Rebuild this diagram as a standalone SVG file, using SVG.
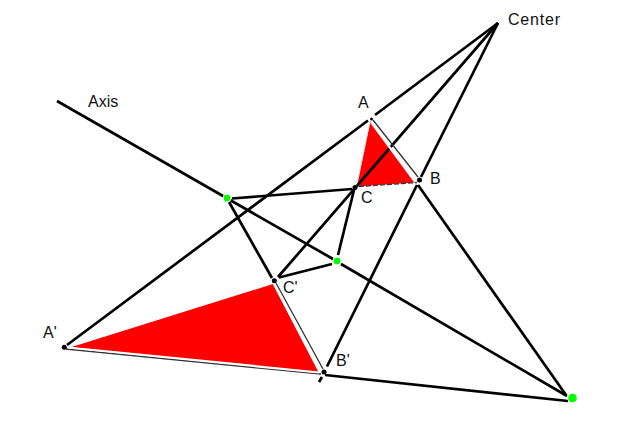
<svg xmlns="http://www.w3.org/2000/svg" width="626" height="428" viewBox="0 0 626 428">
<style>
.l{stroke:#000;stroke-width:2.7;fill:none}
.t{stroke:#333;stroke-width:1.3;fill:none}
.e{stroke:#fff;stroke-width:2.2;fill:none}
.tri{fill:#f00}
.p{fill:#000}
.g{fill:#0f0;stroke:#fff;stroke-width:1}
text{font-family:"Liberation Sans",Arial,sans-serif;font-size:16px;fill:#111}
</style>
<rect width="626" height="428" fill="#fff"/>
<g id="triangle-abc"><polygon class="tri" points="370.500,121 415,182.500 357,186.500"/></g>
<g id="triangle-abc-prime"><polygon class="tri" points="70,347.500 273,284 319,373"/></g>
<g id="connectors">
<path class="l" d="M498 23L375 115M368 120.500L67 345"/>
<path class="l" d="M498 23L278 277"/>
<path class="l" d="M498 23L421 177M417 185L327 366.500"/>
<path class="l" d="M57 101L333 259M341 264L567 396"/>
<path class="l" d="M232 198.500L352 189"/>
<path class="l" d="M229 202L272 278"/>
<path class="l" d="M354 190L338 255"/>
<path class="l" d="M279 277.500L332 264"/>
<path class="l" d="M418 185L566 395"/>
<path class="l" d="M325 375L568 401"/>
<path class="l" d="M322 377L319 382"/>
<path class="t" d="M373 120L418 177"/>
<path class="e" d="M371 122L416 183"/>
<path class="t" stroke-dasharray="5 2" d="M359 186.500L417 182.500"/>
<path class="t" d="M356 186L370 122" style="stroke:#ccc;stroke-dasharray:1 3"/>
<path class="t" d="M276 283L323 369"/>
<path class="e" d="M274 284L320 372"/>
<path class="t" d="M66 349L321 374" style="stroke-width:1.700"/>
<path class="e" d="M68 347.500L319 372.500"/>
</g>
<g id="center"><text x="508" y="25" textLength="52">Center</text></g>
<g id="axis"><text x="88" y="107">Axis</text></g>
<g id="a"><circle class="p" cx="371.500" cy="119" r="1.500"/><text x="358" y="108">A</text></g>
<g id="b"><circle class="p" cx="419.500" cy="180" r="2.500"/><text x="430" y="184">B</text></g>
<g id="c"><circle class="p" cx="355" cy="187.500" r="2.500"/><text x="361" y="203">C</text></g>
<g id="a-prime"><circle class="p" cx="64.300" cy="347.300" r="2.500"/><text x="43" y="338">A'</text></g>
<g id="b-prime"><circle class="p" cx="324" cy="372" r="2.500"/><text x="336" y="366">B'</text></g>
<g id="c-prime"><circle class="p" cx="274.300" cy="280.700" r="2.500"/><text x="283" y="293">C'</text></g>
<g id="axis-point-1"><circle class="g" cx="227" cy="198" r="4"/></g>
<g id="axis-point-2"><circle class="g" cx="337" cy="261" r="4"/></g>
<g id="axis-point-3"><circle class="g" cx="572.500" cy="398" r="4.800"/></g>
</svg>
